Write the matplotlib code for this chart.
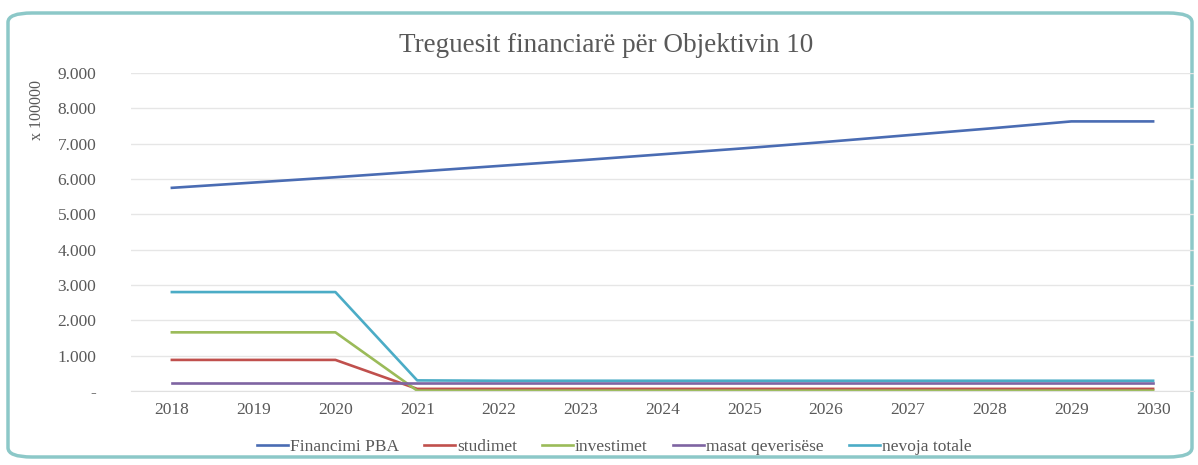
#!/usr/bin/env python3

"""Treguesit financiare per Objektivin 10 - line chart."""

import matplotlib
matplotlib.use("Agg")
import matplotlib.pyplot as plt
from matplotlib.patches import FancyBboxPatch
from matplotlib.ticker import FuncFormatter, MultipleLocator

years = ["2018", "2019", "2020", "2021", "2022", "2023", "2024",
         "2025", "2026", "2027", "2028", "2029", "2030"]

financimi_pba = [5750, 5900, 6050, 6210, 6370, 6530, 6700,
                 6870, 7050, 7240, 7430, 7630, 7630]
studimet = [880, 880, 880, 60, 60, 60, 60, 60, 60, 60, 60, 60, 60]
investimet = [1660, 1660, 1660, 10, 10, 10, 10, 10, 10, 10, 10, 10, 10]
masat_qeverisese = [220, 220, 220, 220, 220, 220, 220,
                    220, 220, 220, 220, 220, 220]
nevoja_totale = [2800, 2800, 2800, 300, 290, 290, 290,
                 290, 290, 290, 290, 290, 290]

series = [
    ("Financimi PBA", financimi_pba, "#4A6CB3"),
    ("studimet", studimet, "#C0504D"),
    ("investimet", investimet, "#9BBB59"),
    ("masat qeverisëse", masat_qeverisese, "#7E64A2"),
    ("nevoja totale", nevoja_totale, "#4BACC6"),
]

TEXT = "#595959"
plt.rcParams["font.family"] = ["Liberation Serif", "DejaVu Serif"]

fig = plt.figure(figsize=(11.98, 4.65), dpi=100)
fig.patches.append(FancyBboxPatch(
    (8 / 1198, 8 / 465), 1184 / 1198, 444 / 465,
    boxstyle="round,pad=0,rounding_size=0.02",
    transform=fig.transFigure, facecolor="none",
    edgecolor="#8CC8C8", linewidth=2.5, zorder=-1))

ax = fig.add_axes([131 / 1198, 1 - 391 / 465, 1063 / 1198, 318 / 465])
ax.set_facecolor("none")

x = list(range(len(years)))
for name, vals, color in series:
    ax.plot(x, vals, color=color, linewidth=1.9, label=name)

ax.set_xlim(-0.5, len(years) - 0.5)
ax.set_ylim(0, 9000)
ax.set_xticks(x)
ax.set_xticklabels(years)
ax.yaxis.set_major_locator(MultipleLocator(1000))
ax.yaxis.set_major_formatter(FuncFormatter(
    lambda v, _: "-" if v == 0 else f"{int(v):,}".replace(",", ".")))
ax.grid(axis="y", color="#E6E6E6", linewidth=1)
ax.set_axisbelow(True)
for side in ["top", "right", "left"]:
    ax.spines[side].set_visible(False)
ax.spines["bottom"].set_color("#E0E0E0")
ax.tick_params(axis="both", length=0, colors=TEXT, labelsize=12.5)
ax.tick_params(axis="x", pad=8)
ax.tick_params(axis="y", pad=25)

fig.text(37 / 1198, 1 - 110 / 465, "x 100000", rotation=90,
         ha="center", va="center", fontsize=11.5, color=TEXT)
fig.text(606 / 1198, 1 - 45 / 465, "Treguesit financiarë për Objektivin 10",
         ha="center", va="center", fontsize=19.5, color=TEXT)

fig.legend(loc="center", bbox_to_anchor=(614 / 1198, 1 - 447 / 465),
           ncol=5, frameon=False, fontsize=12.5, labelcolor=TEXT,
           handlelength=1.8, handletextpad=0.1, columnspacing=1.45)

fig.savefig("out.png", dpi=100)
